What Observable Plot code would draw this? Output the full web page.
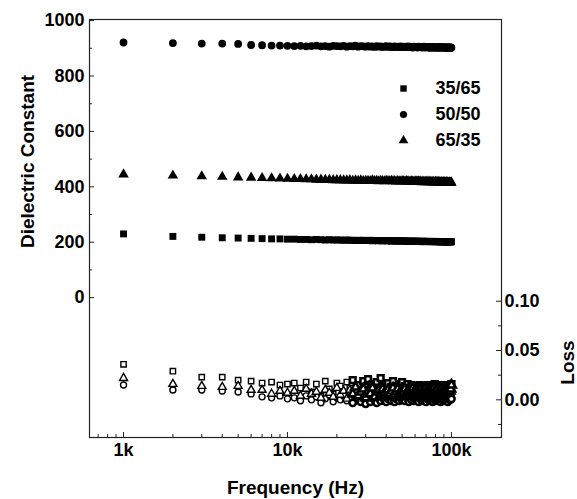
<!DOCTYPE html>
<html>
<head>
<meta charset="utf-8">
<script src="https://cdn.jsdelivr.net/npm/d3@7"></script>
<script src="https://cdn.jsdelivr.net/npm/@observablehq/plot@0.6"></script>
<style>
  html, body { margin: 0; padding: 0; background: #fff; }
  svg { display: block; }
</style>
</head>
<body>
<div id="chart"></div>
<script>
// ---- data ----
const freqKHz = [1,2,3,4,5,6,7,8,9,10,11,12,13,14,15,16,17,18,19,20,21,22,23,24,25,26,27,28,29,30,31,32,33,34,35,36,37,38,39,40,41,42,43,44,45,46,47,48,49,50,51,52,53,54,55,56,57,58,59,60,61,62,63,64,65,66,67,68,69,70,71,72,73,74,75,76,77,78,79,80,81,82,83,84,85,86,87,88,89,90,91,92,93,94,95,96,97,98,99,100];

const series = ["35/65", "50/50", "65/35"];

const eps3565 = [230,221,218,216,215,214,213,212,212,211,211,210,210,209,210,209,208,209,208,208,208,207,208,207,207,206,207,206,207,206,206,207,205,206,206,205,206,205,206,205,205,206,204,205,205,204,205,204,205,204,204,205,204,203,204,204,203,204,203,204,203,204,203,203,202,203,204,202,203,203,202,203,203,202,203,202,202,203,202,202,202,203,202,201,202,202,201,202,202,201,201,202,201,202,201,201,202,201,201,202];
const eps5050 = [921,919,917,917,916,912,911,910,910,909,908,909,907,908,910,907,908,906,909,908,907,909,906,908,907,910,906,908,907,906,908,906,907,905,908,906,907,905,906,908,905,907,906,904,907,905,906,904,907,905,906,904,905,907,904,906,905,903,906,904,905,903,906,904,905,903,904,906,903,905,904,903,905,902,904,903,905,902,904,903,904,902,903,905,902,904,903,902,904,903,902,904,903,901,903,902,904,901,903,902];
const eps6535 = [445,441,438,436,434,433,432,431,430,429,428,428,427,427,426,426,425,425,424,424,424,423,423,424,422,423,422,423,421,422,422,421,423,421,422,420,422,421,420,422,421,420,422,420,421,419,421,420,419,421,420,419,421,419,420,418,420,419,418,420,419,418,420,418,419,417,419,418,417,419,418,417,419,417,418,416,418,417,416,418,417,416,418,416,417,415,417,416,415,417,416,415,417,415,416,414,416,415,414,416];

const loss3565 = [.036,.029,.023,.023,.020,.019,.017,.018,.015,.016,.017,.012,.018,.008,.016,.004,.019,.011,.006,.017,.014,.002,.018,.012,.020,.009,.015,.003,.019,.013,.021,.010,.016,.006,.018,.012,.022,.008,.015,.011,.017,.009,.013,.019,.007,.014,.010,.016,.012,.018,.011,.014,.009,.016,.012,.010,.015,.008,.013,.011,.014,.009,.012,.015,.010,.013,.008,.012,.014,.010,.012,.015,.009,.013,.011,.014,.010,.012,.016,.011,.013,.010,.014,.011,.012,.015,.009,.013,.011,.014,.012,.010,.013,.015,.011,.012,.014,.010,.013,.016];
const loss5050 = [.015,.010,.010,.009,.008,.006,.003,.002,.004,.001,.002,-.001,.004,.000,.003,-.003,.001,.005,-.002,.002,.000,.004,-.001,.002,-.003,.003,.001,-.002,.004,-.004,.002,-.002,.003,.000,-.003,.002,-.001,.004,.000,-.002,.001,.003,-.001,.002,-.002,.001,.003,-.001,.002,.000,.002,-.001,.003,.001,-.002,.002,.000,.003,-.001,.001,.003,.000,-.002,.002,.001,-.001,.003,.000,.002,-.002,.001,.003,.000,-.001,.002,.001,-.002,.003,.000,.002,.000,.002,-.001,.003,.001,-.002,.002,.000,.001,.003,-.001,.002,.000,.003,-.002,.001,.002,.000,.003,.001];
const loss6535 = [.022,.016,.014,.013,.014,.010,.010,.006,.009,.007,.009,.004,.011,.006,.008,.002,.010,.007,.003,.012,.005,.009,.001,.010,.006,.013,.004,.008,.011,.002,.009,.006,.012,.003,.008,.010,.005,.011,.007,.004,.010,.006,.009,.012,.005,.008,.011,.006,.009,.007,.008,.011,.005,.009,.007,.010,.006,.012,.008,.009,.007,.010,.006,.009,.011,.008,.005,.010,.007,.012,.009,.006,.010,.008,.011,.007,.009,.012,.006,.010,.008,.011,.007,.009,.010,.006,.012,.008,.010,.009,.011,.007,.009,.012,.008,.010,.013,.009,.011,.015];

const xTicks = [1000, 10000, 100000];
const xMinorTicks = [700,800,900,2000,3000,4000,5000,6000,7000,8000,9000,20000,30000,40000,50000,60000,70000,80000,90000];
const epsTicks = [0, 200, 400, 600, 800, 1000];
const epsMinorTicks = [100, 300, 500, 700, 900];
const lossTicks = [0, 0.05, 0.10];
const lossMinorTicks = [-0.025, 0.025, 0.075];

// loss values share the left scale: offset/scale placing the loss axis
const LOSS0 = -369, LOSSK = 3560;
const toY = (l) => LOSS0 + l * LOSSK;

const symbols = {"35/65": "square", "50/50": "circle", "65/35": "triangle"};
const epsArr = {"35/65": eps3565, "50/50": eps5050, "65/35": eps6535};
const lossArr = {"35/65": loss3565, "50/50": loss5050, "65/35": loss6535};
const epsData = [];
const lossData = [];
for (const s of series) {
  freqKHz.forEach((f, i) => {
    epsData.push({f: f * 1000, v: epsArr[s][i], s});
    lossData.push({f: f * 1000, v: toY(lossArr[s][i]), s});
  });
}

const font = "'Liberation Sans', Arial, sans-serif";
const W = 577, H = 499, ML = 89, MR = 76, MT = 19, MB = 62;
const FW = W - ML - MR, FH = H - MT - MB;
const TICK = 5, MINOR = 3;

const legendMarks = series.map((s, i) => [
  Plot.dot([s], {frameAnchor: "top-left", dx: 314, dy: 69 + i * 26, symbol: symbols[s], r: 3.6, fill: "#000"}),
  Plot.text([s], {frameAnchor: "top-left", dx: 346, dy: 69 + i * 26, text: (d) => d, textAnchor: "start", lineAnchor: "middle", fontSize: 18, fontWeight: "bold"})
]).flat();

const chart = Plot.plot({
  width: W,
  height: H,
  marginLeft: ML,
  marginRight: MR,
  marginTop: MT,
  marginBottom: MB,
  style: {fontFamily: font, fontWeight: "bold", fontSize: "18px", color: "#000", background: "#fff"},
  x: {type: "log", domain: [620, 202000], axis: null},
  y: {domain: [-505, 1004], axis: null},
  marks: [
    Plot.frame({stroke: "#222", strokeWidth: 1.2}),
    // inward ticks
    Plot.tickY(epsTicks, {y: (d) => d, insetRight: FW - TICK, stroke: "#222"}),
    Plot.tickY(epsMinorTicks, {y: (d) => d, insetRight: FW - MINOR, stroke: "#222"}),
    Plot.tickY(lossTicks.map(toY), {y: (d) => d, insetLeft: FW - TICK, stroke: "#222"}),
    Plot.tickY(lossMinorTicks.map(toY), {y: (d) => d, insetLeft: FW - MINOR, stroke: "#222"}),
    Plot.tickX(xTicks, {x: (d) => d, insetTop: FH - TICK, stroke: "#222"}),
    Plot.tickX(xMinorTicks, {x: (d) => d, insetTop: FH - MINOR, stroke: "#222"}),
    // tick labels
    Plot.axisY(epsTicks, {anchor: "left", tickSize: 0, tickPadding: 5, fontSize: 18, fontWeight: "bold", label: null,
      tickFormat: (d) => String(d)}),
    Plot.axisY(lossTicks.map(toY), {anchor: "right", tickSize: 0, tickPadding: 3, fontSize: 18, fontWeight: "bold", label: null,
      tickFormat: (d) => ((d - LOSS0) / LOSSK).toFixed(2)}),
    Plot.axisX(xTicks, {anchor: "bottom", tickSize: 0, tickPadding: 6, fontSize: 18, fontWeight: "bold", label: null,
      tickFormat: (d) => (d / 1000) + "k"}),
    // dielectric constant (filled symbols)
    Plot.dot(epsData, {x: "f", y: "v", symbol: (d) => symbols[d.s], r: 3.9, fill: "#000", stroke: "none"}),
    // loss (open symbols); the dense high-frequency part merges into a dark band
    Plot.dot(lossData.filter((d) => d.f < 25000), {x: "f", y: "v", symbol: (d) => symbols[d.s], r: 3, fill: "#fff", stroke: "#000", strokeWidth: 1.4}),
    Plot.dot(lossData.filter((d) => d.f >= 25000), {x: "f", y: "v", symbol: (d) => symbols[d.s], r: 3.2, fill: "#fff", stroke: "#000", strokeWidth: 2.6}),
    ...legendMarks,
    Plot.text(["Dielectric Constant"], {frameAnchor: "left", dx: -62, dy: -67, rotate: -90, textAnchor: "middle", lineAnchor: "middle", text: (d) => d, fontSize: 19, fontWeight: "bold"}),
    Plot.text(["Loss"], {frameAnchor: "right", dx: 66, dy: 134, rotate: -90, textAnchor: "middle", lineAnchor: "middle", text: (d) => d, fontSize: 19, fontWeight: "bold"}),
    Plot.text(["Frequency (Hz)"], {frameAnchor: "bottom", dx: 0, dy: 50, textAnchor: "middle", lineAnchor: "middle", text: (d) => d, fontSize: 19, fontWeight: "bold"})
  ]
});

document.getElementById("chart").append(chart);
</script>
</body>
</html>
